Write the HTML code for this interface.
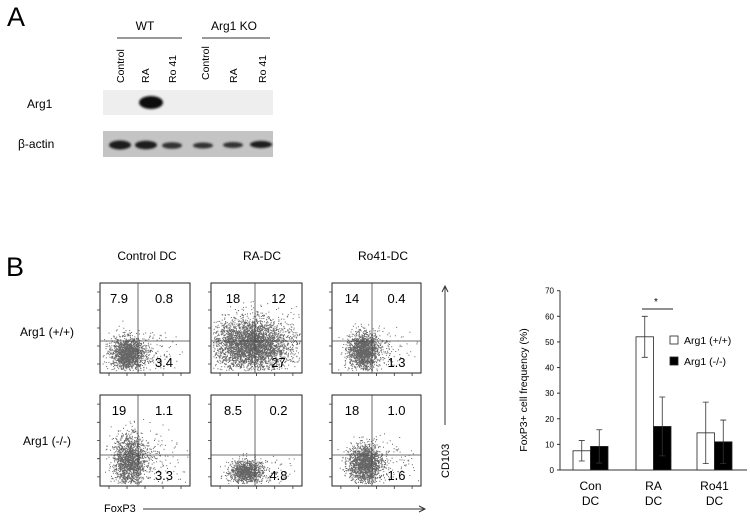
<!DOCTYPE html>
<html><head><meta charset="utf-8">
<style>
body{margin:0;background:#fff;}
svg{display:block;font-family:"Liberation Sans",Arial,sans-serif;}
</style></head>
<body>
<svg id="fig" width="750" height="524" viewBox="0 0 750 524" xmlns="http://www.w3.org/2000/svg">
  <defs><filter id="blur" x="-20%" y="-50%" width="140%" height="200%"><feGaussianBlur stdDeviation="1"/></filter></defs>
  <!-- Panel A -->
  <text x="7" y="26" font-size="27">A</text>
  <text x="145" y="30" font-size="12" text-anchor="middle">WT</text>
  <line x1="117" y1="38" x2="182" y2="38" stroke="#333" stroke-width="1"/>
  <text x="234" y="30" font-size="12" text-anchor="middle">Arg1  KO</text>
  <line x1="202" y1="38" x2="270" y2="38" stroke="#333" stroke-width="1"/>
  <g font-size="10.5">
    <text transform="translate(124,83) rotate(-90)">Control</text>
    <text transform="translate(149,83) rotate(-90)">RA</text>
    <text transform="translate(176,83) rotate(-90)">Ro 41</text>
    <text transform="translate(209,80) rotate(-90)">Control</text>
    <text transform="translate(237,83) rotate(-90)">RA</text>
    <text transform="translate(266,83) rotate(-90)">Ro 41</text>
  </g>
  <text x="27" y="108" font-size="12">Arg1</text>
  <text x="18" y="148" font-size="12">β-actin</text>
  <rect x="103" y="90" width="170" height="25" fill="#eeeeee"/>
  <ellipse cx="151" cy="102.5" rx="12" ry="6.5" fill="#111" filter="url(#blur)"/>
  <rect x="103" y="131" width="170" height="26" fill="#c4c4c4"/>
  <g fill="#1a1a1a" filter="url(#blur)">
    <ellipse cx="120" cy="145" rx="11" ry="4.5"/>
    <ellipse cx="146" cy="145" rx="11" ry="4.2"/>
    <ellipse cx="172" cy="145.5" rx="10" ry="3.3" fill="#333"/>
    <ellipse cx="203" cy="145.5" rx="10" ry="3" fill="#333"/>
    <ellipse cx="233" cy="145" rx="10" ry="3" fill="#333"/>
    <ellipse cx="261" cy="144.5" rx="11" ry="3.6"/>
  </g>

  <!-- Panel B -->
  <text x="6" y="276" font-size="27">B</text>
  <g font-size="12" text-anchor="middle">
    <text x="147" y="260">Control  DC</text>
    <text x="262" y="260">RA-DC</text>
    <text x="383" y="260">Ro41-DC</text>
  </g>
  <text x="47" y="336" font-size="12" text-anchor="middle">Arg1 (+/+)</text>
  <text x="47" y="445" font-size="12" text-anchor="middle">Arg1 (-/-)</text>
  <g id="flow"></g>
  <text x="104" y="512" font-size="11">FoxP3</text>
  <line x1="143" y1="509" x2="424" y2="509" stroke="#333"/>
  <path d="M419,506 L425,509 L419,512" fill="none" stroke="#333"/>
  <text transform="translate(449,478) rotate(-90)" font-size="11">CD103</text>
  <line x1="445" y1="287" x2="445" y2="425" stroke="#333"/>
  <path d="M442,292 L445,286 L448,292" fill="none" stroke="#333"/>

  <!-- Bar chart -->
  <g id="bars"></g>
</svg>
<script>
// Bar chart data
const groups = ["Con", "RA", "Ro41"];
const wtValues = [7.5, 52, 14.5];
const koValues = [9.2, 17, 11];
const wtErrors = [4, 8, 12];
const koErrors = [6.5, 11.5, 8.5];
const yTicks = [0, 10, 20, 30, 40, 50, 60, 70];
// Flow quadrant percentages [UL, UR, LR]
const flowQuadrants = [
  ["7.9","0.8","3.4"],["18","12","27"],["14","0.4","1.3"],
  ["19","1.1","3.3"],["8.5","0.2","4.8"],["18","1.0","1.6"]
];

const NS = "http://www.w3.org/2000/svg";
function mk(tag, attrs, parent){const e=document.createElementNS(NS,tag);for(const k in attrs)e.setAttribute(k,attrs[k]);parent.appendChild(e);return e;}

// ---- bar chart ----
const bars = document.getElementById('bars');
const x0 = 560, x1 = 747, yBase = 470, yTop = 290.7, yMax = 70;
const y = v => yBase - v/yMax*(yBase-yTop);
const groupX = [573, 636, 697];
const bw = 17.5;
let ax = mk('line',{x1:x0,y1:yTop,x2:x0,y2:yBase,stroke:'#333'},bars);


ax = mk('line',{x1:x0,y1:yBase,x2:x1,y2:yBase,stroke:'#333'},bars);


yTicks.forEach(t=>{
  const tk = mk('line',{x1:x0-3,y1:y(t),x2:x0,y2:y(t),stroke:'#333'},bars);
  
  
  const tl = mk('text',{x:x0-6,y:y(t)+3,'font-size':8,'text-anchor':'end'},bars);
  tl.textContent = t;
  
  
});
const yt = mk('text',{transform:'translate(527,390) rotate(-90)','font-size':10.5,'text-anchor':'middle'},bars);
yt.textContent = 'FoxP3+ cell frequency (%)';


groups.forEach((g,i)=>{
  const gx = groupX[i];
  [[wtValues,wtErrors,'#fff','wt'],[koValues,koErrors,'#000','ko']].forEach(([vals,errs,fill,key],j)=>{
    const bx = gx + j*bw;
    const r = mk('rect',{x:bx,y:y(vals[i]),width:bw,height:yBase-y(vals[i]),fill:fill,stroke:'#222','stroke-width':0.8},bars);
    
    
    const cx = bx + bw/2;
    const ep = mk('path',{d:`M${cx},${y(vals[i]+errs[i])} V${y(vals[i]-errs[i])} M${cx-3},${y(vals[i]+errs[i])} H${cx+3} M${cx-3},${y(vals[i]-errs[i])} H${cx+3}`,stroke:'#333','stroke-width':0.8,fill:'none'},bars);
    
    
  });
  const l1 = mk('text',{x:gx+bw,y:490,'font-size':12,'text-anchor':'middle'},bars);
  l1.textContent = g;
  
  
  const l2 = mk('text',{x:gx+bw,y:505,'font-size':12,'text-anchor':'middle'},bars);
  l2.textContent = 'DC';
  
  
});
const sig = mk('line',{x1:642,y1:309,x2:673,y2:309,stroke:'#222'},bars);


const star = mk('text',{x:656,y:305,'font-size':10,'text-anchor':'middle'},bars);
star.textContent='*';


[['#fff','Arg1 (+/+)',340,'legend-wt'],['#000','Arg1 (-/-)',361,'legend-ko']].forEach(([f,t,ly,n])=>{
  const b = mk('rect',{x:670,y:ly-4,width:8,height:8,fill:f,stroke:'#222','stroke-width':0.8},bars);
  
  
  const tx = mk('text',{x:684,y:ly+4,'font-size':10.5},bars);
  tx.textContent = t;
  
  
});

// ---- flow plots ----
const flow = document.getElementById('flow');
const colX = [[100,190,138],[211,302,255],[332,421,372]];
const rowY = [[283,373,341],[395,486,455]];
// cloud shape per panel: cx, cy (fraction), sx, sy, n
const clouds = [
  [0.3,0.78,0.09,0.09,1800],[0.42,0.68,0.2,0.14,4000],[0.34,0.75,0.08,0.1,1800],
  [0.32,0.72,0.09,0.14,1800],[0.38,0.84,0.09,0.06,1200],[0.36,0.76,0.09,0.11,1800]
];
let seed = 12345;
function rnd(){seed=(seed*1103515245+12345)%2147483648;return seed/2147483648;}
function gauss(){let u=rnd()||1e-9,v=rnd();return Math.sqrt(-2*Math.log(u))*Math.cos(2*Math.PI*v);}
for(let r=0;r<2;r++)for(let c=0;c<3;c++){
  const k=r*3+c;
  const [xa,xb,vx]=colX[c];const [ya,yb,hy]=rowY[r];
  const w=xb-xa,h=yb-ya;
  const g=mk('g',{},flow);
  
  
  const [cx,cy,sx,sy,n]=clouds[k];
  let d='';
  for(let i=0;i<n;i++){
    let px,py;
    if(i%8===0){px=cx+Math.abs(gauss())*sx*2.8;py=cy+gauss()*sy*1.2;}
    else{px=cx+gauss()*sx;py=cy+gauss()*sy;}
    if(px<0.02||px>0.98||py<0.05||py>0.97)continue;
    d+=`M${(xa+px*w).toFixed(1)},${(ya+py*h).toFixed(1)}h1v1h-1z`;
  }
  const dots=mk('path',{d:d,fill:'#333','fill-opacity':0.75},g);
  
  
  const box=mk('rect',{x:xa,y:ya,width:w,height:h,fill:'none',stroke:'#222','stroke-width':1},g);
  
  
  const ql=mk('path',{d:`M${vx},${ya} V${yb} M${xa},${hy} H${xb}`,stroke:'#444','stroke-width':0.8},g);
  
  
  let td='';
  for(let t=0;t<5;t++){const ty=ya+h*(0.1+t*0.2);td+=`M${xa-3},${ty}H${xa}`;const tx=xa+w*(0.1+t*0.2);td+=`M${tx},${yb}V${yb+3}`;}
  const tk=mk('path',{d:td,stroke:'#333','stroke-width':0.8},g);
  
  
  const q=flowQuadrants[k];
  const t1=mk('text',{x:xa+(vx-xa)/2,y:ya+20,'font-size':13,'text-anchor':'middle'},g);
  t1.textContent=q[0];
  
  
  const t2=mk('text',{x:vx+(xb-vx)/2,y:ya+20,'font-size':13,'text-anchor':'middle'},g);
  t2.textContent=q[1];
  
  
  const t3=mk('text',{x:vx+(xb-vx)/2,y:yb-6,'font-size':13,'text-anchor':'middle'},g);
  t3.textContent=q[2];
  
  
}
</script>
</body></html>
